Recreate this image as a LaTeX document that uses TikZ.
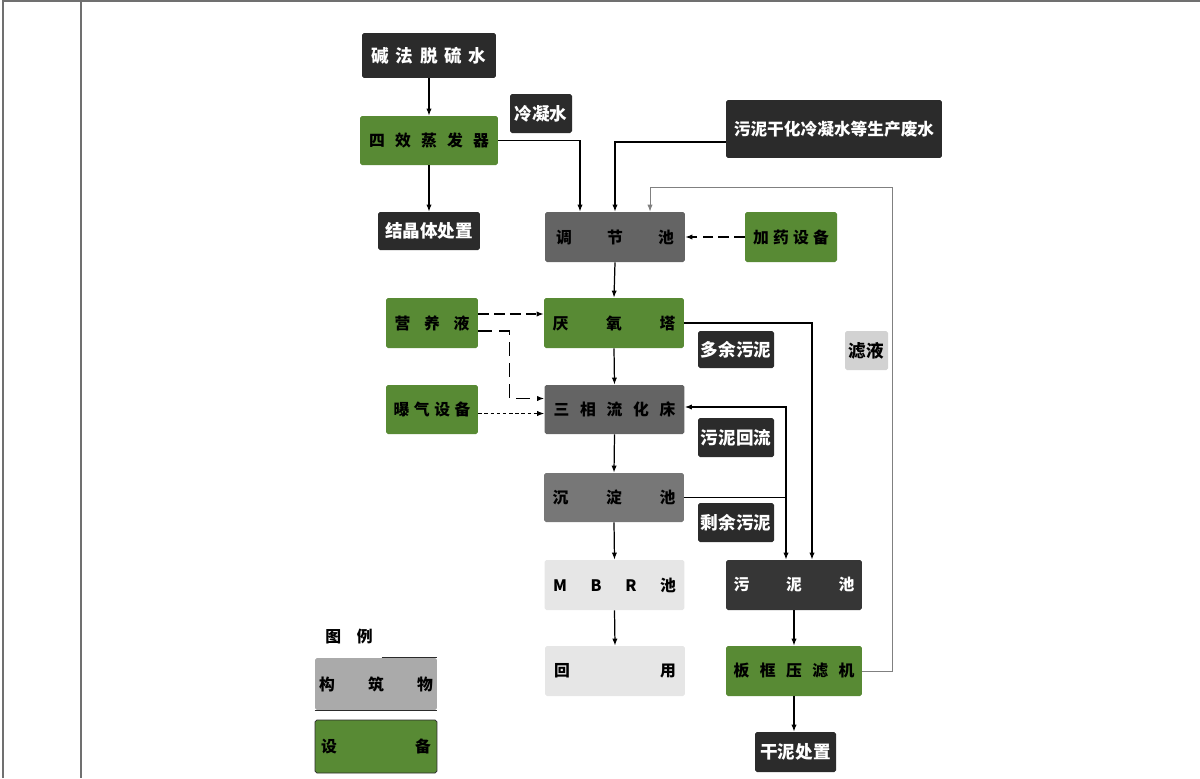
\documentclass[tikz,border=0pt]{standalone}
\usepackage{fontspec}
\usepackage{tikz}
\usetikzlibrary{arrows.meta,calc}
\newfontfamily\cjk{Noto Sans CJK SC}
\definecolor{boxblack}{HTML}{2B2B2B}
\definecolor{boxgreen}{HTML}{588A34}
\definecolor{pooldark}{HTML}{646464}
\definecolor{poolmid}{HTML}{777777}
\definecolor{poollight}{HTML}{E6E6E6}
\definecolor{sludgedark}{HTML}{363636}
\definecolor{legendgray}{HTML}{AAAAAA}
\definecolor{filtgray}{HTML}{D2D2D2}
\definecolor{framegray}{HTML}{707070}
\newcommand{\spaced}[2]{\makebox[#1][s]{#2}}

\begin{document}
\begin{tikzpicture}[x=0.02cm, y=-0.02cm, >={Latex[length=4pt,width=3pt]},
  box/.style={rectangle, rounded corners=1pt, inner sep=0pt,
    font=\cjk\bfseries\fontsize{9}{11}\selectfont},
  tag/.style={box, fill=boxblack, text=white,
    font=\cjk\bfseries\fontsize{10}{12}\selectfont},
  equip/.style={box, fill=boxgreen, text=black},
  pool/.style={box, minimum width=2.8cm, minimum height=1cm},
  flow/.style={->, line width=0.7pt}]
  \useasboundingbox (0,0) rectangle (1200,778);
  % frame
  \draw[framegray, line width=1.1pt] (3,778) -- (3,1) -- (1200,1);
  \draw[framegray, line width=1.1pt] (81,1) -- (81,778);

  % left column
  \node[tag, minimum width=2.68cm, minimum height=0.9cm] (jianfa) at (429,55.5) {\spaced{2.3cm}{碱 法 脱 硫 水}};
  \node[equip, minimum width=2.76cm, minimum height=0.98cm] (zhengfa) at (429,140.5) {\spaced{2.4cm}{四 效 蒸 发 器}};
  \node[tag, minimum width=2.04cm, minimum height=0.76cm] (jiejing) at (429,231) {结晶体处置};
  \node[tag, minimum width=1.24cm, minimum height=0.78cm] (lengning) at (541,113.5) {冷凝水};
  \node[tag, minimum width=4.32cm, minimum height=1.16cm, font=\cjk\bfseries\fontsize{9.5}{11}\selectfont] (feishui) at (834,129) {污泥干化冷凝水等生产废水};

  % main line
  \node[pool, fill=pooldark] (tiaojie) at (615,237) {\spaced{2.36cm}{调 节 池}};
  \node[equip, minimum width=1.84cm, minimum height=1cm] (jiayao) at (791,237) {\spaced{1.52cm}{加 药 设 备}};
  \node[equip, minimum width=1.84cm, minimum height=1cm] (yingyang) at (432,323) {\spaced{1.5cm}{营 养 液}};
  \node[pool, fill=boxgreen] (yanyang) at (614,323) {\spaced{2.46cm}{厌 氧 塔}};
  \node[tag, minimum width=1.52cm, minimum height=0.74cm] (duoyu) at (736,349.5) {多余污泥};
  \node[box, fill=filtgray, minimum width=0.86cm, minimum height=0.78cm, font=\cjk\bfseries\fontsize{10}{12}\selectfont] (lvye) at (866.5,350.5) {滤液};
  \node[equip, minimum width=1.84cm, minimum height=0.98cm] (puqi) at (432,409.5) {\spaced{1.54cm}{曝 气 设 备}};
  \node[pool, fill=pooldark, minimum height=0.98cm] (sanxiang) at (614.5,409.5) {\spaced{2.44cm}{三 相 流 化 床}};
  \node[tag, minimum width=1.52cm, minimum height=0.78cm] (huiliu) at (736,437.5) {污泥回流};
  \node[pool, fill=poolmid, minimum height=0.98cm] (chendian) at (614,497.5) {\spaced{2.46cm}{沉 淀 池}};
  \node[tag, minimum width=1.52cm, minimum height=0.78cm] (shengyu) at (736,522.5) {剩余污泥};
  \node[pool, fill=poollight] (mbr) at (614.5,585) {\spaced{2.46cm}{M B R 池}};
  \node[pool, fill=poollight] (huiyong) at (615,671) {\spaced{2.44cm}{回 用}};

  % sludge line
  \node[pool, fill=sludgedark, text=white, minimum width=2.72cm] (wunichi) at (794,585) {\spaced{2.42cm}{污 泥 池}};
  \node[pool, fill=boxgreen, minimum width=2.72cm] (bankuang) at (794,671) {\spaced{2.42cm}{板 框 压 滤 机}};
  \node[tag, minimum width=1.62cm, minimum height=0.8cm] (ganni) at (795.5,752) {干泥处置};

  % legend
  \node[box] (tuli) at (349,637) {图\quad 例};
  \node[box, fill=legendgray, minimum width=2.44cm, minimum height=1.04cm] (goujian) at (376,684) {\spaced{2.28cm}{构 筑 物}};
  \draw[boxblack, line width=0.8pt] ($(goujian.north west)+(67,0)$) -- (goujian.north east);
  \draw[boxblack, line width=0.8pt] (goujian.south west) -- (goujian.south east);
  \node[box, fill=boxgreen, draw=boxblack, minimum width=2.44cm, minimum height=1.06cm] (shebei) at (376,746.5) {\spaced{2.2cm}{设 备}};

  % connectors
  \draw[flow] (jianfa.south) -- (zhengfa.north);
  \draw[flow] (zhengfa.south) -- (jiejing.north);
  \draw[flow] (zhengfa.east) -| ($(tiaojie.north)+(-35,0)$);
  \draw[flow] ($(feishui.west)+(0,13)$) -| (tiaojie.north);
  \coordinate (lvtop) at (892,187);
  \draw[->, gray, line width=0.5pt] (bankuang.east) -| (lvtop) -| ($(tiaojie.north)+(35,0)$);
  \draw[flow, dash pattern=on 6pt off 3pt] (jiayao.west) -- (tiaojie.east);
  \draw[flow] (tiaojie.south) -- (yanyang.north);
  \draw[flow, dash pattern=on 6pt off 3pt] ($(yingyang.east)+(0,-9)$) -- ($(yanyang.west)+(0,-9)$);
  \draw[flow, dash pattern=on 8pt off 4pt] ($(yingyang.east)+(0,8)$) -- ++(31,0) |- ($(sanxiang.west)+(0,-11)$);
  \draw[->, line width=0.5pt, dash pattern=on 2pt off 1.5pt] ($(puqi.east)+(0,4)$) -- ($(sanxiang.west)+(0,4)$);
  \draw[flow] (yanyang.south) -- (sanxiang.north);
  \draw[flow] (sanxiang.south) -- (chendian.north);
  \draw[flow] (chendian.south) -- (mbr.north);
  \draw[flow] (mbr.south) -- (huiyong.north);
  \draw[flow] (yanyang.east) -| ($(wunichi.north)+(18,0)$);
  \coordinate (fork) at ($(wunichi.north |- chendian.east)+(-8,0)$);
  \draw[flow] (chendian.east) -- (fork) -- (fork |- wunichi.north);
  \draw[flow] (fork) |- ($(sanxiang.east)+(0,-2.5)$);
  \draw[flow] (wunichi.south) -- (bankuang.north);
  \draw[flow] (bankuang.south) -- (bankuang.south |- ganni.north);
\end{tikzpicture}
\end{document}
